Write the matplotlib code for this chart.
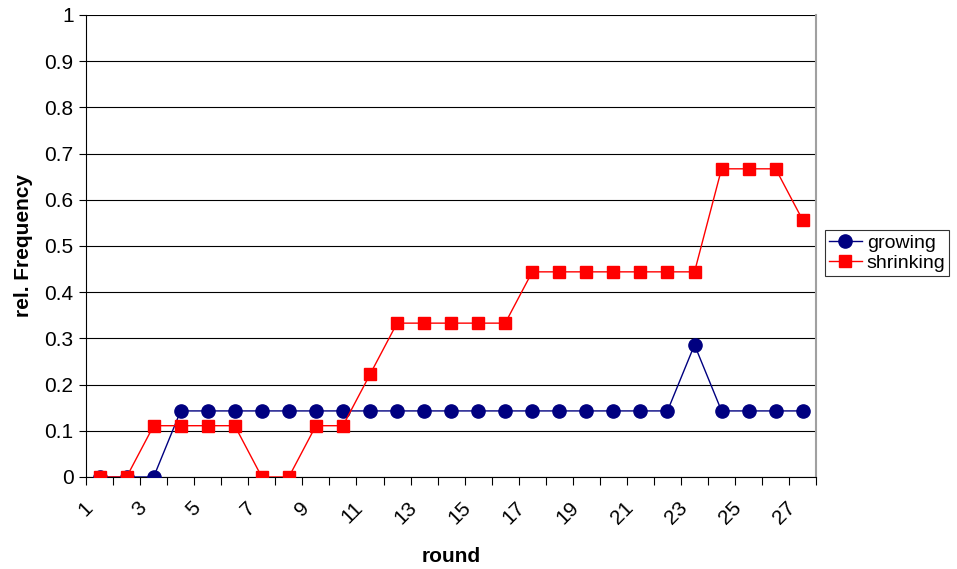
import matplotlib
matplotlib.use("Agg")
import matplotlib.pyplot as plt
import matplotlib.transforms as mtransforms
import numpy as np

plt.rcParams['font.family'] = ['Liberation Sans', 'DejaVu Sans']

rounds = list(range(1, 28))
growing = [0, 0, 0, 0.143, 0.143, 0.143, 0.143, 0.143, 0.143, 0.143,
           0.143, 0.143, 0.143, 0.143, 0.143, 0.143, 0.143, 0.143, 0.143,
           0.143, 0.143, 0.143, 0.286, 0.143, 0.143, 0.143, 0.143]
shrinking = [0, 0, 0.111, 0.111, 0.111, 0.111, 0, 0, 0.111, 0.111,
             0.222, 0.333, 0.333, 0.333, 0.333, 0.333, 0.444, 0.444, 0.444,
             0.444, 0.444, 0.444, 0.444, 0.667, 0.667, 0.667, 0.556]

fig = plt.figure(figsize=(9.57, 5.69), dpi=100)
ax = fig.add_axes([0.0899, 0.1617, 0.763, 0.812])

x = np.arange(len(rounds))
ax.plot(x, growing, color='#000080', marker='o', markersize=9.5, lw=1,
        label='growing', zorder=3)
ax.plot(x, shrinking, color='#FF0000', marker='s', markersize=9, lw=1,
        label='shrinking', zorder=3)

ax.set_xlim(-0.5, len(rounds) - 0.5)
ax.set_ylim(0, 1)
ax.set_yticks(np.arange(0, 1.01, 0.1))
ax.set_yticklabels(['0', '0.1', '0.2', '0.3', '0.4', '0.5', '0.6', '0.7', '0.8', '0.9', '1'])
ax.yaxis.grid(True, color='black', lw=0.8)
ax.set_axisbelow(True)

# tick marks at category boundaries, labels at odd rounds
ax.set_xticks(np.arange(-0.5, len(rounds), 1))
ax.set_xticklabels([])
ax.set_xticks(x[::2], minor=True)
ax.set_xticklabels([str(r) for r in rounds[::2]], minor=True, rotation=45,
                   ha='right', va='top', rotation_mode='anchor', fontsize=15)
ax.tick_params(axis='x', which='minor', length=0, pad=15)
ax.tick_params(axis='x', which='major', direction='out', length=6)
ax.tick_params(axis='y', direction='out', length=5, labelsize=15, pad=4)

shift = mtransforms.ScaledTranslation(-12 / 72, 0, fig.dpi_scale_trans)
for lab in ax.get_xticklabels(minor=True):
    lab.set_transform(lab.get_transform() + shift)

ax.spines['top'].set_visible(False)
ax.spines['right'].set_color('#a0a0a0')
ax.spines['right'].set_linewidth(1.5)

ax.set_xlabel('round', fontsize=15, fontweight='bold', labelpad=14)
ax.set_ylabel('rel. Frequency', fontsize=15, fontweight='bold', labelpad=8)

leg = fig.legend(loc='center left', bbox_to_anchor=(0.862, 0.555), fontsize=14,
                 frameon=True, fancybox=False, edgecolor='black',
                 borderpad=0.2, handlelength=1.7, handletextpad=0.25, labelspacing=0.15,
                 borderaxespad=0)
leg.get_frame().set_linewidth(0.8)

fig.savefig('out.png', dpi=100)
